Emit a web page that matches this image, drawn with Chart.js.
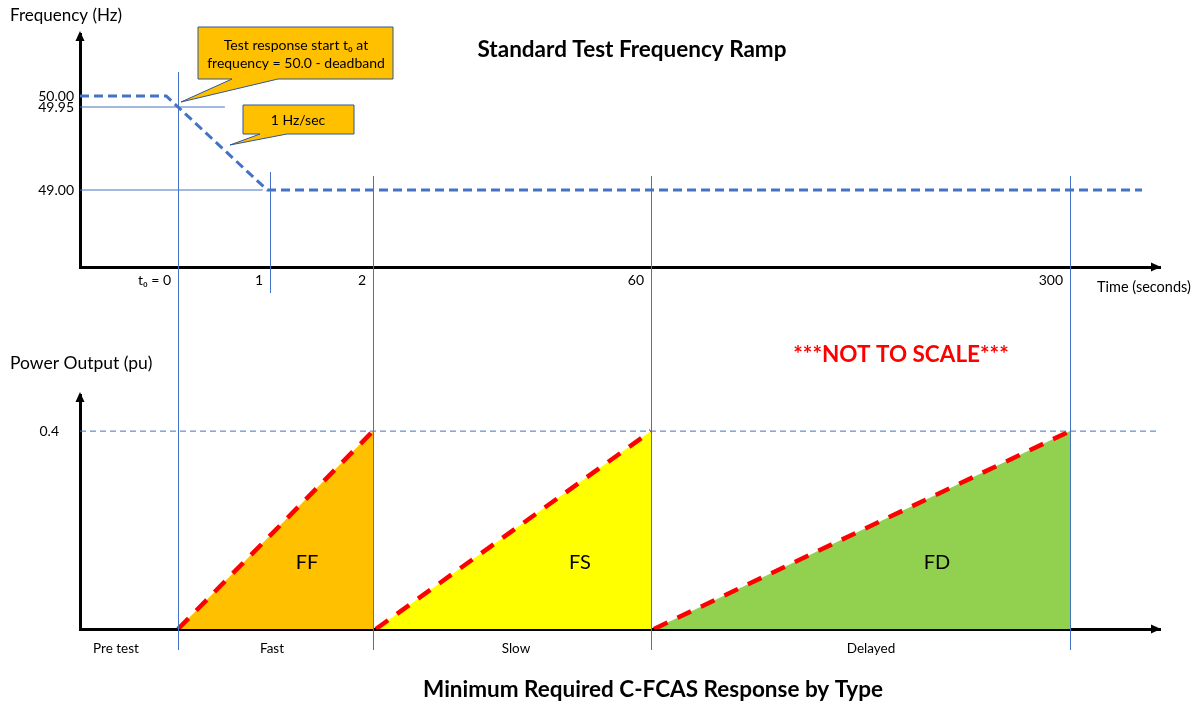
<!DOCTYPE html>
<html>
<head>
<meta charset="utf-8">
<script src="https://cdn.jsdelivr.net/npm/chart.js@4/dist/chart.umd.min.js"></script>
<style>
  body { margin: 0; background: #fff; }
  .wrap { position: relative; width: 1196px; height: 704px; }
  #freq-chart { position: absolute; left: 0; top: 0; }
  #power-chart { position: absolute; left: 0; top: 300px; }
</style>
</head>
<body>
<div class="wrap">
  <canvas id="freq-chart" width="1196" height="300"></canvas>
  <canvas id="power-chart" width="1196" height="404"></canvas>
</div>
<script>
// Data
const timeTicks = [0, 1, 2, 60, 300];
const timeTickLabels = ['t₀ = 0', '1', '2', '60', '300'];
const freqTicks = [49.00, 49.95, 50.00];
const rampTime = [-1, -0.12, 0, 0.97, 340];
const rampHz = [50.00, 50.00, 49.95, 49.00, 49.00];
const deadbandTime = [-1, 0.51];
const floorTime = [-1, 0.92];
const powerTicks = [0.4];
const responseTypes = ['FF', 'FS', 'FD'];
const responseStart = [0, 2.6, 61.7];
const responseEnd = [2, 60, 300];
const responsePu = 0.4;
const stageLabels = ['Pre test', 'Fast', 'Slow', 'Delayed'];

const BLUE = '#4472C4';
const FONT = 'Lato, "Noto Sans", sans-serif';
const responseColors = ['#FFC000', '#FFFF00', '#92D050'];

// "Not to scale" axis: piecewise linear between break points
class SchematicScale extends Chart.LinearScale {
  getPixelForValue(value) {
    const b = this.options.breaks;
    let f = 0;
    for (let i = 1; i < b.length; i++) {
      if (value <= b[i][0] || i === b.length - 1) {
        const v0 = b[i - 1][0], f0 = b[i - 1][1], v1 = b[i][0], f1 = b[i][1];
        f = f0 + (value - v0) / (v1 - v0) * (f1 - f0);
        break;
      }
    }
    return this.getPixelForDecimal(f);
  }
}
SchematicScale.id = 'schematic';
SchematicScale.defaults = {};
Chart.register(SchematicScale);

const timeBreaks = [[-1, 0], [0, 98 / 1080], [1, 190 / 1080], [2, 293 / 1080],
  [60, 571 / 1080], [300, 990 / 1080], [350, 1]];
const freqBreaks = [[48.5, 0], [49, 77 / 233], [49.95, 160 / 233], [50, 171 / 233], [50.3, 1]];

function pts(xs, ys) {
  return xs.map((x, i) => ({ x: x, y: Array.isArray(ys) ? ys[i] : ys }));
}

// vertical guides, arrows, callouts and free text
function decorPlugin(cfg) {
  return {
    id: 'decor',
    afterDatasetsDraw(chart) {
      const ctx = chart.ctx;
      const xs = chart.scales.x;
      ctx.save();
      ctx.strokeStyle = BLUE;
      ctx.lineWidth = 1;
      cfg.guides.forEach(g => {
        const px = Math.round(xs.getPixelForValue(g.t)) + 0.5;
        ctx.beginPath();
        ctx.moveTo(px, g.from);
        ctx.lineTo(px, g.to);
        ctx.stroke();
      });
      ctx.restore();
    },
    afterDraw(chart) {
      const ctx = chart.ctx;
      const a = chart.chartArea;
      ctx.save();
      ctx.fillStyle = '#000';
      // y arrow
      ctx.beginPath();
      ctx.moveTo(a.left, a.top - 3);
      ctx.lineTo(a.left - 4.5, a.top + 7);
      ctx.lineTo(a.left + 4.5, a.top + 7);
      ctx.closePath();
      ctx.fill();
      // x arrow
      ctx.beginPath();
      ctx.moveTo(a.right + 1, a.bottom);
      ctx.lineTo(a.right - 9, a.bottom - 4.5);
      ctx.lineTo(a.right - 9, a.bottom + 4.5);
      ctx.closePath();
      ctx.fill();

      (cfg.callouts || []).forEach(c => {
        ctx.beginPath();
        ctx.moveTo(c.l, c.t);
        ctx.lineTo(c.r, c.t);
        ctx.lineTo(c.r, c.b);
        ctx.lineTo(c.w1, c.b);
        ctx.lineTo(c.tip[0], c.tip[1]);
        ctx.lineTo(c.w0, c.b);
        ctx.lineTo(c.l, c.b);
        ctx.closePath();
        ctx.fillStyle = '#FFC000';
        ctx.fill();
        ctx.strokeStyle = '#2F5597';
        ctx.lineWidth = 1;
        ctx.stroke();
      });

      ctx.textBaseline = 'middle';
      cfg.texts.forEach(t => {
        ctx.font = (t.weight || 'normal') + ' ' + t.size + 'px ' + FONT;
        ctx.fillStyle = t.color || '#000';
        ctx.textAlign = t.align || 'center';
        ctx.fillText(t.text, t.x, t.y);
      });
      ctx.restore();
    }
  };
}

const tickFont = { family: FONT, size: 14 };

// ---------- Frequency ramp ----------
new Chart(document.getElementById('freq-chart'), {
  type: 'line',
  data: {
    datasets: [
      {
        data: pts(rampTime, rampHz),
        borderColor: BLUE, borderWidth: 3, borderDash: [9, 5], pointRadius: 0
      },
      {
        data: pts(deadbandTime, freqTicks[1]),
        borderColor: BLUE, borderWidth: 1, pointRadius: 0
      },
      {
        data: pts(floorTime, freqTicks[0]),
        borderColor: BLUE, borderWidth: 1, pointRadius: 0
      }
    ]
  },
  options: {
    responsive: false,
    animation: false,
    events: [],
    layout: { padding: { top: 34, right: 36, bottom: 0, left: 0 } },
    plugins: { legend: { display: false }, tooltip: { enabled: false } },
    scales: {
      x: {
        type: 'schematic', min: -1, max: 350, breaks: timeBreaks,
        afterBuildTicks: s => { s.ticks = timeTicks.map(v => ({ value: v })); },
        afterFit: s => { s.height = 33; },
        ticks: {
          callback: (v, i) => timeTickLabels[i],
          align: 'end', labelOffset: -7, padding: 5,
          autoSkip: false, maxRotation: 0, color: '#000', font: tickFont
        },
        grid: { display: false, drawTicks: false },
        border: { color: '#000', width: 3 }
      },
      y: {
        type: 'schematic', min: 48.5, max: 50.3, breaks: freqBreaks,
        afterBuildTicks: s => { s.ticks = freqTicks.map(v => ({ value: v })); },
        afterFit: s => { s.width = 80; },
        ticks: {
          callback: v => v.toFixed(2), padding: 6, color: '#000', font: tickFont
        },
        grid: { display: false, drawTicks: false },
        border: { color: '#000', width: 3 }
      }
    }
  },
  plugins: [decorPlugin({
    guides: [
      { t: 0, from: 72, to: 300 },
      { t: 1, from: 172, to: 293 },
      { t: 2, from: 176, to: 300 },
      { t: 60, from: 176, to: 300 },
      { t: 300, from: 176, to: 300 }
    ],
    callouts: [
      { l: 198, t: 27, r: 393, b: 79, w0: 232, w1: 278, tip: [181, 102] },
      { l: 243, t: 105, r: 354, b: 134, w0: 260, w1: 287, tip: [230, 145] }
    ],
    texts: [
      { text: 'Frequency (Hz)', x: 10, y: 16, size: 17, align: 'left' },
      { text: 'Standard Test Frequency Ramp', x: 632, y: 50, size: 22.5, weight: 'bold' },
      { text: 'Test response start t₀ at', x: 296, y: 45, size: 14 },
      { text: 'frequency = 50.0 - deadband', x: 296, y: 63, size: 14 },
      { text: '1 Hz/sec', x: 298, y: 120, size: 14 },
      { text: 'Time (seconds)', x: 1097, y: 287, size: 14.5, align: 'left' }
    ]
  })]
});

// ---------- Power output by response type ----------
const responseSets = responseTypes.map((name, i) => ({
  label: name,
  data: pts([responseStart[i], responseEnd[i]], [0, responsePu]),
  borderColor: '#FF0000', borderWidth: 4.5, borderDash: [15, 11],
  backgroundColor: responseColors[i], fill: 'origin', pointRadius: 0
}));

new Chart(document.getElementById('power-chart'), {
  type: 'line',
  data: {
    datasets: [
      {
        data: pts([-1, 350], responsePu),
        borderColor: BLUE, borderWidth: 1, borderDash: [6, 4], pointRadius: 0
      },
      ...responseSets
    ]
  },
  options: {
    responsive: false,
    animation: false,
    events: [],
    layout: { padding: { top: 95, right: 36, bottom: 0, left: 0 } },
    plugins: { legend: { display: false }, tooltip: { enabled: false } },
    scales: {
      x: {
        type: 'schematic', min: -1, max: 350, breaks: timeBreaks, z: 1,
        afterFit: s => { s.height = 75; },
        ticks: { display: false },
        grid: { display: false, drawTicks: false },
        border: { color: '#000', width: 3 }
      },
      y: {
        min: 0, max: 0.473,
        afterBuildTicks: s => { s.ticks = powerTicks.map(v => ({ value: v })); },
        afterFit: s => { s.width = 80; },
        ticks: { callback: v => String(v), padding: 21, color: '#000', font: tickFont },
        grid: { display: false, drawTicks: false },
        border: { color: '#000', width: 3 }
      }
    }
  },
  plugins: [decorPlugin({
    guides: [
      { t: 0, from: 0, to: 350 },
      { t: 2, from: 0, to: 350 },
      { t: 60, from: 0, to: 350 },
      { t: 300, from: 0, to: 350 }
    ],
    texts: [
      { text: 'Power Output (pu)', x: 10, y: 63, size: 17.5, align: 'left' },
      { text: '***NOT TO SCALE***', x: 901, y: 55, size: 22.5, weight: 'bold', color: '#FF0000' },
      { text: responseTypes[0], x: 307, y: 263, size: 20 },
      { text: responseTypes[1], x: 580, y: 263, size: 20 },
      { text: responseTypes[2], x: 937, y: 263, size: 20 },
      { text: stageLabels[0], x: 116, y: 349, size: 13.5 },
      { text: stageLabels[1], x: 272, y: 349, size: 13.5 },
      { text: stageLabels[2], x: 516, y: 349, size: 13.5 },
      { text: stageLabels[3], x: 871, y: 349, size: 13.5 },
      { text: 'Minimum Required C-FCAS Response by Type', x: 653, y: 390, size: 22.5, weight: 'bold' }
    ]
  })]
});
</script>
</body>
</html>
